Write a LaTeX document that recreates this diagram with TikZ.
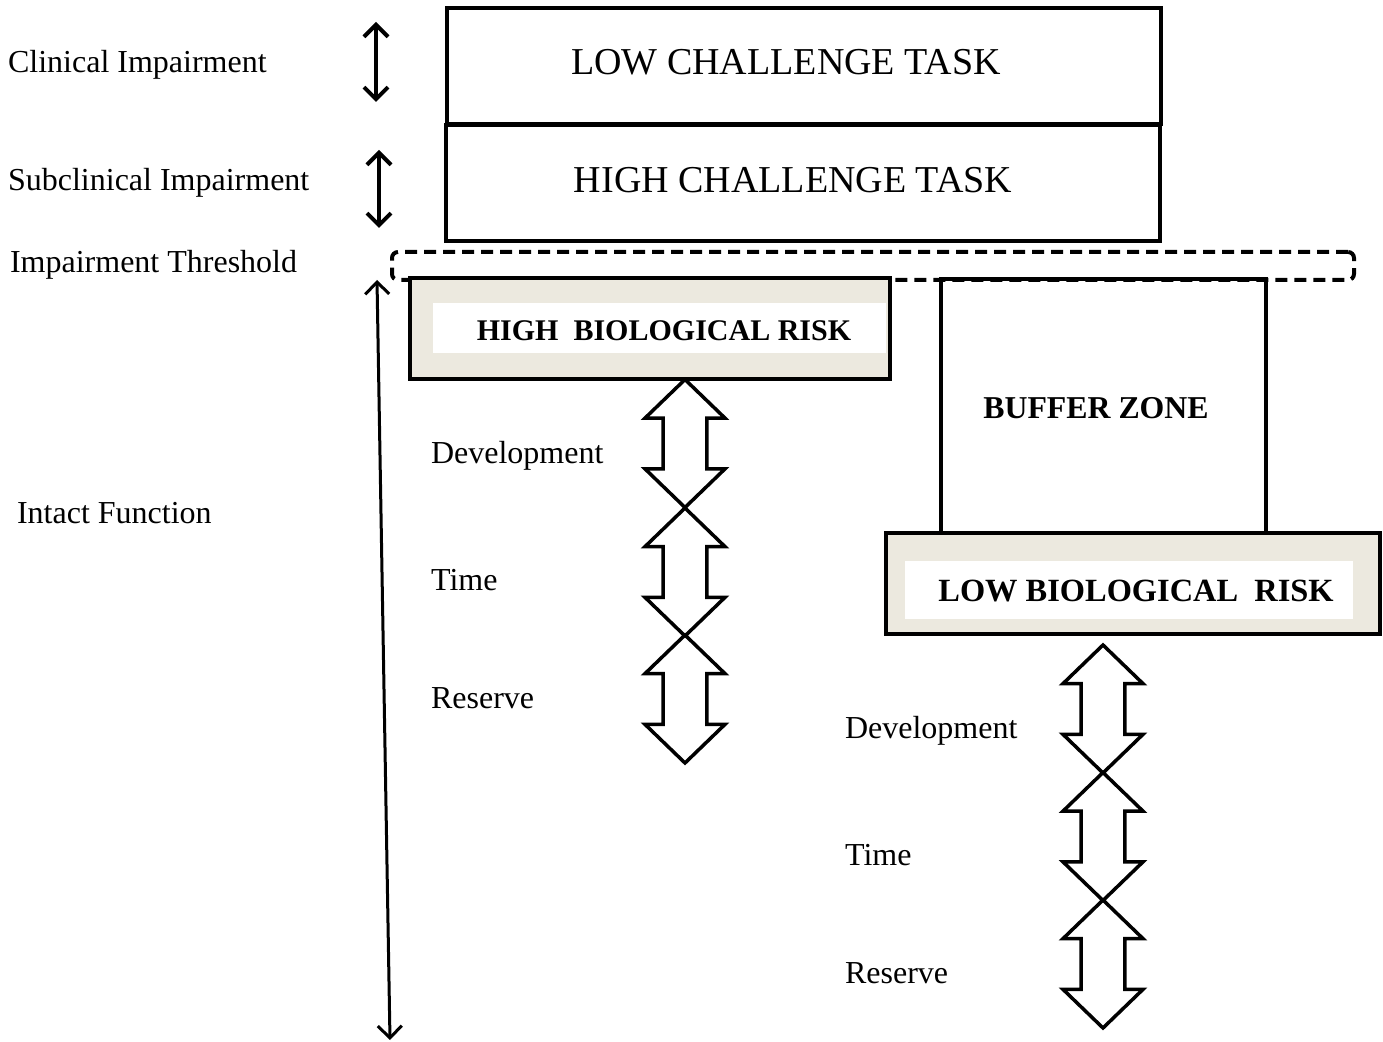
\documentclass[tikz,border=0pt]{standalone}
\usepackage{fontspec}
\setmainfont{Liberation Serif}
\usepackage{xcolor}
\usepackage{tikz}
\usetikzlibrary{positioning, arrows.meta, shapes.arrows}
\definecolor{riskfill}{RGB}{236,233,223}

\begin{document}
\begin{tikzpicture}[
    x=0.5pt, y=-0.5pt,
    every node/.style={font=\fontsize{16}{19}\selectfont},
    taskbox/.style={draw, line width=2pt, minimum width=357pt, minimum height=58pt},
    tasktext/.style={font=\fontsize{19}{22}\selectfont},
    riskbox/.style={draw, line width=2pt, fill=riskfill, minimum height=50.5pt, inner sep=0pt},
    riskinner/.style={fill=white, inner sep=0pt},
    risktext/.style={font=\bfseries\fontsize{#1}{18}\selectfont},
    dblarrow/.style={double arrow, draw, line width=1.75pt, rotate=90, minimum height=64pt, minimum width=40pt,
      double arrow head extend=9pt, double arrow tip angle=92, inner xsep=0pt, inner ysep=10pt},
    sidetext/.style={anchor=west},
    rangearrow/.style={{Straight Barb[length=6pt, width=12pt]}-{Straight Barb[length=6pt, width=12pt]}, line width=2pt},
  ]
  \useasboundingbox (0,0) rectangle (1383,1042);

  % --- Task levels ---
  \node[taskbox] (lct) at (804,66.5) {};
  \node[tasktext] (lcttxt) at ([xshift=-9pt, yshift=2pt]lct.center) {LOW CHALLENGE TASK};
  \node[taskbox] (hct) at (803,183) {};
  \node[tasktext] (hcttxt) at ([xshift=-5pt, yshift=1.5pt]hct.center) {HIGH CHALLENGE TASK};

  % --- Threshold ---
  \node[draw, line width=2pt, rounded corners=3pt, dash pattern=on 6pt off 3.5pt,
    minimum width=481pt, minimum height=14pt] (thresh) at (873,266) {};

  % --- Risk boxes ---
  \node[riskbox, minimum width=240pt] (hrisk) at (650,328.5) {};
  \node[riskinner, minimum width=226.5pt, minimum height=25pt] (hriskin) at (659.5,328) {};
  \node[risktext=15] (hrisktxt) at (664,331) {HIGH\ \ BIOLOGICAL RISK};

  \node[draw, line width=2pt, minimum width=162.5pt, minimum height=127pt] (buffer) at (1103.5,406) {};
  \node[risktext=15.9] (buftxt) at (1096,408) {BUFFER ZONE};

  \node[riskbox, minimum width=247pt] (lrisk) at (1133,583.5) {};
  \node[riskinner, minimum width=224pt, minimum height=29pt] (lriskin) at (1129,590) {};
  \node[risktext=16.2] (lrisktxt) at (1136,591) {LOW BIOLOGICAL\ \ RISK};

  % --- Double arrows ---
  \node[dblarrow] (hdev) at (685,443.5) {};
  \node[dblarrow] (htime) at (685,572) {};
  \node[dblarrow] (hres) at (685,699) {};
  \node[dblarrow] (ldev) at (1103,709) {};
  \node[dblarrow] (ltime) at (1103,836.5) {};
  \node[dblarrow] (lres) at (1103,964) {};

  \node[sidetext] (hdevtxt) at (424,456) {Development};
  \node[sidetext] (htimetxt) at (424,580) {Time};
  \node[sidetext] (hrestxt) at (424,698) {Reserve};
  \node[sidetext] (ldevtxt) at (838,731) {Development};
  \node[sidetext] (ltimetxt) at (838,855) {Time};
  \node[sidetext] (lrestxt) at (838,973) {Reserve};

  % --- Left side scale ---
  \node[sidetext] (clin) at (1,65) {Clinical Impairment};
  \node[sidetext] (subclin) at (1,183) {Subclinical Impairment};
  \node[sidetext] (threshtxt) at (3,265) {Impairment Threshold};
  \node[sidetext] (intact) at (10,513) {Intact Function};

  \coordinate (clintop) at (376,22);
  \coordinate (clinbot) at (376,102);
  \coordinate (subtop) at (379,150);
  \coordinate (subbot) at (379,228);
  \coordinate (intop) at (377,280);
  \coordinate (inbot) at (390,1040);

  \draw[rangearrow] (clintop) -- (clinbot);
  \draw[rangearrow] (subtop) -- (subbot);
  \draw[rangearrow, line width=1.5pt] (intop) -- (inbot);

\end{tikzpicture}
\end{document}
